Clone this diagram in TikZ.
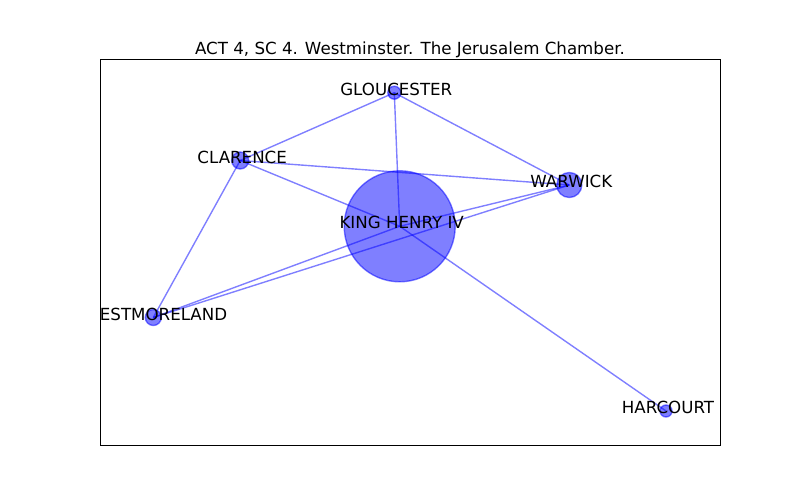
\documentclass[tikz,border=0pt]{standalone}
\usepackage{fontspec}
\setmainfont{DejaVu Sans}
\begin{document}
\begin{tikzpicture}[x=1pt,y=-1pt,
  edge/.style={draw=blue,draw opacity=0.5,line width=1.39pt},
  person/.style={circle,inner sep=0pt,fill=blue,fill opacity=0.5,draw=blue,draw opacity=0.5,line width=1.39pt},
  lbl/.style={anchor=base,inner sep=0pt,font=\fontsize{16.67}{20}\selectfont,text=black},
  ttl/.style={anchor=base,inner sep=0pt,font=\fontsize{16.67}{20}\selectfont,text=black}]
\useasboundingbox (0,0) rectangle (800,500);
\fill[white] (0,0) rectangle (800,500);
% positions
\coordinate (GL) at (394.3,92.7);
\coordinate (CL) at (240.2,160.5);
\coordinate (WA) at (569.3,185);
\coordinate (KH) at (399.7,226.3);
\coordinate (WM) at (153.3,317.5);
\coordinate (HA) at (666,411);
\begin{scope}
\clip (100,60) rectangle (720,445);
% edges
\draw[edge] (GL) -- (CL);
\draw[edge] (GL) -- (WA);
\draw[edge] (GL) -- (KH);
\draw[edge] (CL) -- (WA);
\draw[edge] (CL) -- (KH);
\draw[edge] (CL) -- (WM);
\draw[edge] (WM) -- (KH);
\draw[edge] (WM) -- (WA);
\draw[edge] (KH) -- (WA);
\draw[edge] (KH) -- (HA);
% nodes
\node[person,minimum size=13pt] (gl) at (GL) {};
\node[person,minimum size=17pt] (cl) at (CL) {};
\node[person,minimum size=25pt] (wa) at (WA) {};
\node[person,minimum size=111pt] (kh) at (KH) {};
\node[person,minimum size=16pt] (wm) at (WM) {};
\node[person,minimum size=12pt] (ha) at (HA) {};
% labels
\node[lbl] (glt) at ([xshift=2pt,yshift=-2.5pt]GL) {GLOUCESTER};
\node[lbl] (clt) at ([xshift=2pt,yshift=-2.5pt]CL) {CLARENCE};
\node[lbl] (wat) at ([xshift=2pt,yshift=-2.5pt]WA) {WARWICK};
\node[lbl] (kht) at ([xshift=2pt,yshift=-2.5pt]KH) {KING HENRY IV};
\node[lbl] (wmt) at ([xshift=2pt,yshift=-2.5pt]WM) {WESTMORELAND};
\node[lbl] (hat) at ([xshift=2pt,yshift=-2.5pt]HA) {HARCOURT};
\end{scope}
\draw[black,line width=1pt] (100,60) rectangle (720,445);
\node[ttl] (title) at (410,54.5) {ACT 4, SC 4. Westminster. The Jerusalem Chamber.};
\end{tikzpicture}
\end{document}
